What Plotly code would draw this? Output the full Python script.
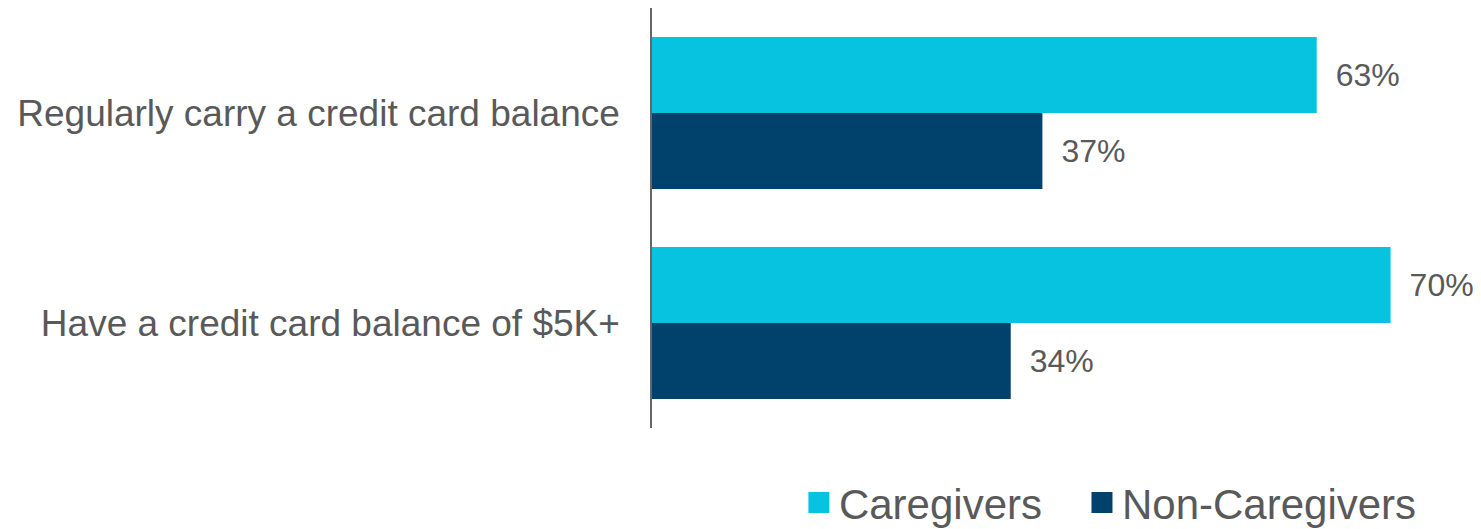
import plotly.graph_objects as go

categories = ["Regularly carry a credit card balance", "Have a credit card balance of $5K+"]
caregivers = [63, 70]
non_caregivers = [37, 34]
series_names = ["Caregivers", "Non-Caregivers"]
colors = ["#07C3DF", "#00426B"]
text_color = "#595959"
font_family = "Liberation Sans, Arial, sans-serif"

fig = go.Figure()
for name, vals, col in zip(series_names, [caregivers, non_caregivers], colors):
    fig.add_trace(go.Bar(
        y=categories, x=vals, orientation="h", name=name,
        marker=dict(color=col, line=dict(width=0)),
        text=[f"\u2002{v}%" for v in vals], textposition="outside",
        textfont=dict(size=32, color=text_color, family=font_family),
        cliponaxis=False, showlegend=False,
    ))
legend_pad = ["\u00a0\u00a0\u00a0", ""]
for name, col, pad in zip(series_names, colors, legend_pad):
    fig.add_trace(go.Scatter(
        x=[None], y=[None], mode="markers", name=name + pad,
        marker=dict(symbol="square", size=16, color=col, line=dict(color=col, width=5)),
    ))

fig.update_layout(
    width=1481, height=529,
    margin=dict(l=652, r=6, t=8, b=101, autoexpand=False),
    paper_bgcolor="white", plot_bgcolor="white",
    barmode="group", bargap=0.276, bargroupgap=0,
    font=dict(family=font_family, color=text_color),
    showlegend=True,
    legend=dict(
        orientation="h", x=0.1785, xanchor="left", y=-0.178, yanchor="middle",
        font=dict(size=42, color=text_color, family=font_family),
        itemclick=False, bgcolor="rgba(0,0,0,0)",
    ),
    xaxis=dict(range=[0, 78], visible=False, fixedrange=True),
    yaxis=dict(
        autorange="reversed", showline=True, linecolor="#666666", linewidth=1.5,
        showgrid=False, zeroline=False, ticks="", ticklabelstandoff=23,
        tickfont=dict(size=37, color=text_color, family=font_family),
        fixedrange=True,
    ),
)

fig.write_html(
    "out.html",
    config={"displayModeBar": False},
    post_script="document.body.style.margin='0';document.body.style.overflow='hidden';",
)
